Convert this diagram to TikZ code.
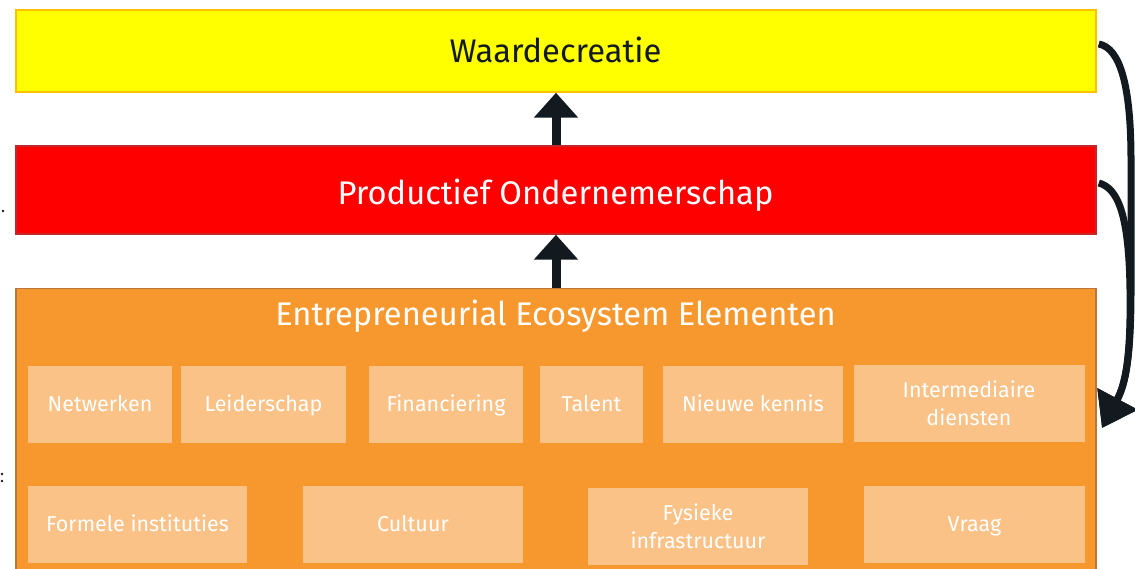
\documentclass[tikz,border=0pt]{standalone}
\usepackage{fontspec}
\setmainfont{Fira Sans}
\usetikzlibrary{arrows.meta,calc}
\definecolor{ylw}{HTML}{FFFF00}
\definecolor{ylwb}{HTML}{FFC000}
\definecolor{rd}{HTML}{FF0000}
\definecolor{rdb}{HTML}{C0282A}
\definecolor{org}{HTML}{F7982F}
\definecolor{orgb}{HTML}{B9763A}
\definecolor{lorg}{HTML}{FAC287}
\definecolor{ink}{HTML}{121A1F}
\tikzset{
  bigbox/.style={rectangle, minimum width=1080pt, line width=1.5pt, inner sep=0pt},
  bigtext/.style={inner sep=0pt, text height=22.5pt, text depth=0pt, font=\fontsize{32.7}{38}\selectfont},
  elem/.style={rectangle, fill=lorg, draw=none, text=white, minimum height=77pt, inner sep=0pt,
    align=center, text height=14.8pt, text depth=0pt, font=\fontsize{21.5}{28.5}\selectfont},
  twoline/.style={text height={}, text depth={}},
  uparrow/.style={draw=ink, line width=9pt, -{Triangle[length=25pt 0 0, width=43pt 0 0]}},
  curvearrow/.style={draw=ink, line width=7pt, -{Triangle[length=33pt 0 0, width=44pt 0 0]}},
  dot/.style={circle, fill=ink, inner sep=0pt, minimum size=2.6pt}
}
\begin{document}
\begin{tikzpicture}[x=1pt, y=-1pt]
\useasboundingbox (0,0) rectangle (1135,569);
\fill[white] (0,0) rectangle (1135,569);
% big boxes
\node[bigbox, fill=ylw, draw=ylwb, minimum height=82pt] (wc) at (556,51) {};
\node[bigtext, text=ink] (wct) at (555.5,50.8) {Waardecreatie};
\node[bigbox, fill=rd, draw=rdb, minimum height=88pt] (po) at (556,190) {};
\node[bigtext, text=white] (pot) at (555.5,193.6) {Productief Ondernemerschap};
\node[bigbox, fill=org, draw=orgb, minimum height=300pt, anchor=north] (eee) at (556,288) {};
\node[bigtext, text=white] (eeet) at (555.5,313.8) {Entrepreneurial Ecosystem Elementen};
% row 1
\node[elem, minimum width=144pt] (n1) at (100,404) {Netwerken};
\node[elem, minimum width=165pt] (n2) at (263.5,404) {Leiderschap};
\node[elem, minimum width=154pt] (n3) at (446,404) {Financiering};
\node[elem, minimum width=103pt] (n4) at (591.5,404) {Talent};
\node[elem, minimum width=180pt] (n5) at (753,404) {Nieuwe kennis};
\node[elem, twoline, minimum width=231pt] (n6) at (969,403) {Intermediaire\\diensten};
% row 2
\node[elem, minimum width=219pt] (m1) at (137.5,524) {Formele instituties};
\node[elem, minimum width=220pt] (m2) at (413,524) {Cultuur};
\node[elem, twoline, minimum width=220pt] (m3) at (698,526) {Fysieke\\infrastructuur};
\node[elem, minimum width=221pt] (m4) at (974.5,524) {Vraag};
% up arrows
\draw[uparrow] (po.north) -- (wc.south);
\draw[uparrow] (eee.north) -- (po.south);
% curved arrows
\coordinate (tip) at (1102,428);
\coordinate (s1) at ($(wc.east)+(2,-7)$);
\coordinate (s2) at ($(po.east)+(2,-7)$);
\draw[curvearrow] (s1) .. controls (1120,48) and (1131,85) .. (1131,160) -- (1131,290)
  .. controls (1131,360) and (1125,385) .. (tip);
\draw[curvearrow] (s2) .. controls (1118,188) and (1129,215) .. (1130,290)
  .. controls (1131,360) and (1125,385) .. (tip);
% stray marks at left edge
\node[dot] (d1) at (3,211) {};
\node[dot] (d2) at (2,474) {};
\node[dot] (d3) at (2,481) {};
\end{tikzpicture}
\end{document}
